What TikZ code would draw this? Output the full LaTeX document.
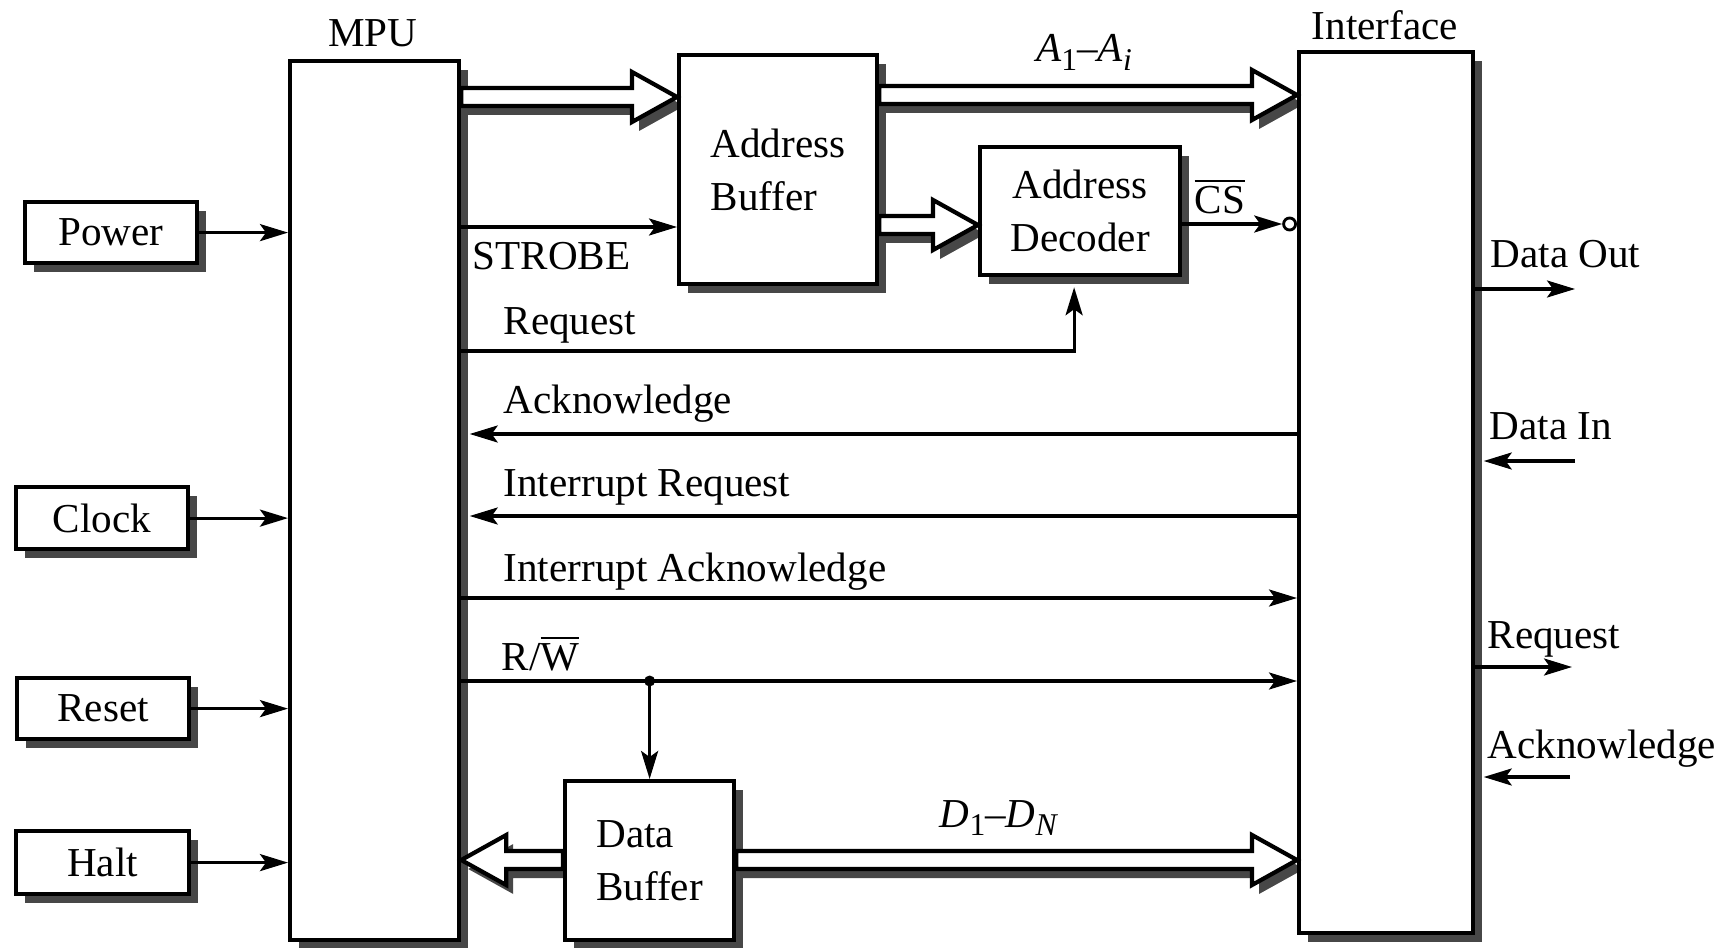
\documentclass[tikz,border=0pt]{standalone}
\usepackage{fontspec}
\setmainfont{Liberation Serif}
\usetikzlibrary{arrows.meta,shadows,calc}
\pgfdeclarelayer{background}
\pgfsetlayers{background,main}
\definecolor{shade}{gray}{0.28}

% hollow bus arrow from #1 to #2 (horizontal, at the height of #2); #3 = signed head length
\newcommand\buspath[3]{let \p1=(#1), \p2=(#2), \n1={#3} in
  ({\x1},{\y2+0.09cm}) -- ({\x2-\n1},{\y2+0.09cm}) -- ({\x2-\n1},{\y2+0.25cm}) -- ({\x2},{\y2})
  -- ({\x2-\n1},{\y2-0.25cm}) -- ({\x2-\n1},{\y2-0.09cm}) -- ({\x1},{\y2-0.09cm}) -- cycle}
% lowered index for bus names
\newcommand\busidx[1]{\raisebox{-0.45ex}{\fontsize{9}{9}\selectfont #1}}

\begin{document}
\begin{tikzpicture}[
  font=\fontsize{11.7}{15}\selectfont,
  blk/.style={draw, line width=1.2pt, fill=white, inner sep=0pt, anchor=north west,
    drop shadow={shadow xshift=0.085cm, shadow yshift=-0.085cm, opacity=1, fill=shade}},
  sig/.style={line width=0.9pt, -{Stealth[length=0.28cm, width=0.17cm, inset=0.06cm]}},
  lbl/.style={anchor=base west, inner sep=0pt},
  ttl/.style={anchor=base, inner sep=0pt},
  busline/.style={line width=1.2pt, fill=white, line join=miter},
  busshade/.style={fill=shade, transform canvas={shift={(0.07,-0.09)}}},
]
\useasboundingbox (0,0) rectangle (17.21,-9.47);
\begin{pgfonlayer}{background}
  \fill[white] (0,0) rectangle (17.21,-9.47);
\end{pgfonlayer}

% blocks
\node[blk, minimum width=1.69cm, minimum height=8.79cm] (mpu) at (2.88,-0.59) {};
\node[blk, minimum width=1.72cm, minimum height=0.61cm] (power) at (0.23,-2.00) {Power};
\node[blk, minimum width=1.72cm, minimum height=0.62cm] (clock) at (0.14,-4.85) {Clock};
\node[blk, minimum width=1.72cm, minimum height=0.61cm] (reset) at (0.15,-6.76) {Reset};
\node[blk, minimum width=1.73cm, minimum height=0.63cm] (halt) at (0.14,-8.29) {Halt};
\node[blk, minimum width=1.98cm, minimum height=2.29cm, align=left] (abuf) at (6.77,-0.53) {Address\\Buffer};
\node[blk, minimum width=2.00cm, minimum height=1.28cm, align=center] (adec) at (9.78,-1.45) {Address\\Decoder};
\node[blk, minimum width=1.74cm, minimum height=8.81cm] (intf) at (12.97,-0.50) {};
\node[blk, minimum width=1.69cm, minimum height=1.59cm, align=left] (dbuf) at (5.63,-7.79) {Data\\Buffer};

% titles
\node[ttl] (tMPU) at (3.73,-0.47) {MPU};
\node[ttl] (tIntf) at (13.85,-0.40) {Interface};

% signal heights
\coordinate (yB1) at (0,-0.97);
\coordinate (yB2) at (0,-0.95);
\coordinate (yB3) at (0,-2.25);
\coordinate (yD) at (0,-8.60);
\coordinate (yStb) at (0,-2.27);
\coordinate (yCS) at (0,-2.24);
\coordinate (yReq) at (0,-3.51);
\coordinate (yAck) at (0,-4.34);
\coordinate (yIR) at (0,-5.16);
\coordinate (yIA) at (0,-5.98);
\coordinate (yRW) at (0,-6.81);

% bus shadows
\begin{pgfonlayer}{background}
  \fill[busshade] \buspath{mpu.east |- yB1}{abuf.west |- yB1}{0.45cm};
  \fill[busshade] \buspath{abuf.east |- yB2}{intf.west |- yB2}{0.45cm};
  \fill[busshade] \buspath{abuf.east |- yB3}{adec.west |- yB3}{0.45cm};
  \fill[busshade] \buspath{dbuf.west |- yD}{mpu.east |- yD}{-0.45cm};
  \fill[busshade] \buspath{dbuf.east |- yD}{intf.west |- yD}{0.45cm};
\end{pgfonlayer}

% buses
\draw[busline] \buspath{mpu.east |- yB1}{abuf.west |- yB1}{0.45cm};
\draw[busline] \buspath{abuf.east |- yB2}{intf.west |- yB2}{0.45cm};
\draw[busline] \buspath{abuf.east |- yB3}{adec.west |- yB3}{0.45cm};
\draw[busline] \buspath{dbuf.west |- yD}{mpu.east |- yD}{-0.45cm};
\draw[busline] \buspath{dbuf.east |- yD}{intf.west |- yD}{0.45cm};
\node[ttl] (tA) at (10.84,-0.62) {\textit{A}\busidx{1}–\textit{A}\busidx{\textit{i}}};
\node[ttl] (tD) at (9.99,-8.27) {\textit{D}\busidx{1}–\textit{D}\busidx{\textit{N}}};

% control inputs of the MPU
\draw[sig] (power.east) -- (power.east -| mpu.west);
\draw[sig] (clock.east) -- (clock.east -| mpu.west);
\draw[sig] (reset.east) -- (reset.east -| mpu.west);
\draw[sig] (halt.east) -- (halt.east -| mpu.west);

% MPU to address logic
\draw[sig] (mpu.east |- yStb) -- (abuf.west |- yStb);
\node[lbl] (tStb) at (4.72,-2.69) {STROBE};
\draw[sig, shorten >=0.1cm] (mpu.east |- yReq) -| ([xshift=-0.06cm]adec.south);
\node[lbl] (tReq) at (5.03,-3.34) {Request};

% chip select
\node[circle, draw, line width=0.8pt, fill=white, minimum size=0.12cm, inner sep=0pt, anchor=east] (inv) at (intf.west |- yCS) {};
\draw[sig] (adec.east |- yCS) -- (inv.west);
\node[lbl] (tCS) at (11.94,-2.13) {$\overline{\mbox{CS}}$};

% handshake lines
\draw[sig, shorten >=0.085cm] (intf.west |- yAck) -- (mpu.east |- yAck);
\node[lbl] (tAck) at (5.03,-4.13) {Acknowledge};
\draw[sig, shorten >=0.085cm] (intf.west |- yIR) -- (mpu.east |- yIR);
\node[lbl] (tIR) at (5.03,-4.96) {Interrupt Request};
\draw[sig] (mpu.east |- yIA) -- (intf.west |- yIA);
\node[lbl] (tIA) at (5.03,-5.81) {Interrupt Acknowledge};
\draw[sig] (mpu.east |- yRW) -- (intf.west |- yRW);
\node[lbl] (tRW) at (5.01,-6.70) {R/$\overline{\mbox{W}}$};
\coordinate (rwj) at (dbuf.north |- yRW);
\fill (rwj) circle (0.055);
\draw[sig] (rwj) -- (dbuf.north);

% interface outputs and inputs
\coordinate (eDO) at (15.75,-2.89);
\coordinate (eDI) at (15.75,-4.61);
\coordinate (eRq) at (15.72,-6.67);
\coordinate (eAk) at (15.70,-7.77);
\draw[sig] (intf.east |- eDO) -- (eDO);
\node[lbl] (tDO) at (14.90,-2.68) {Data Out};
\draw[sig, shorten >=0.085cm] (eDI) -- (intf.east |- eDI);
\node[lbl] (tDI) at (14.89,-4.39) {Data In};
\draw[sig] (intf.east |- eRq) -- (eRq);
\node[lbl] (tRq) at (14.87,-6.48) {Request};
\draw[sig, shorten >=0.085cm] (eAk) -- (intf.east |- eAk);
\node[lbl] (tAk) at (14.87,-7.58) {Acknowledge};
\end{tikzpicture}
\end{document}
